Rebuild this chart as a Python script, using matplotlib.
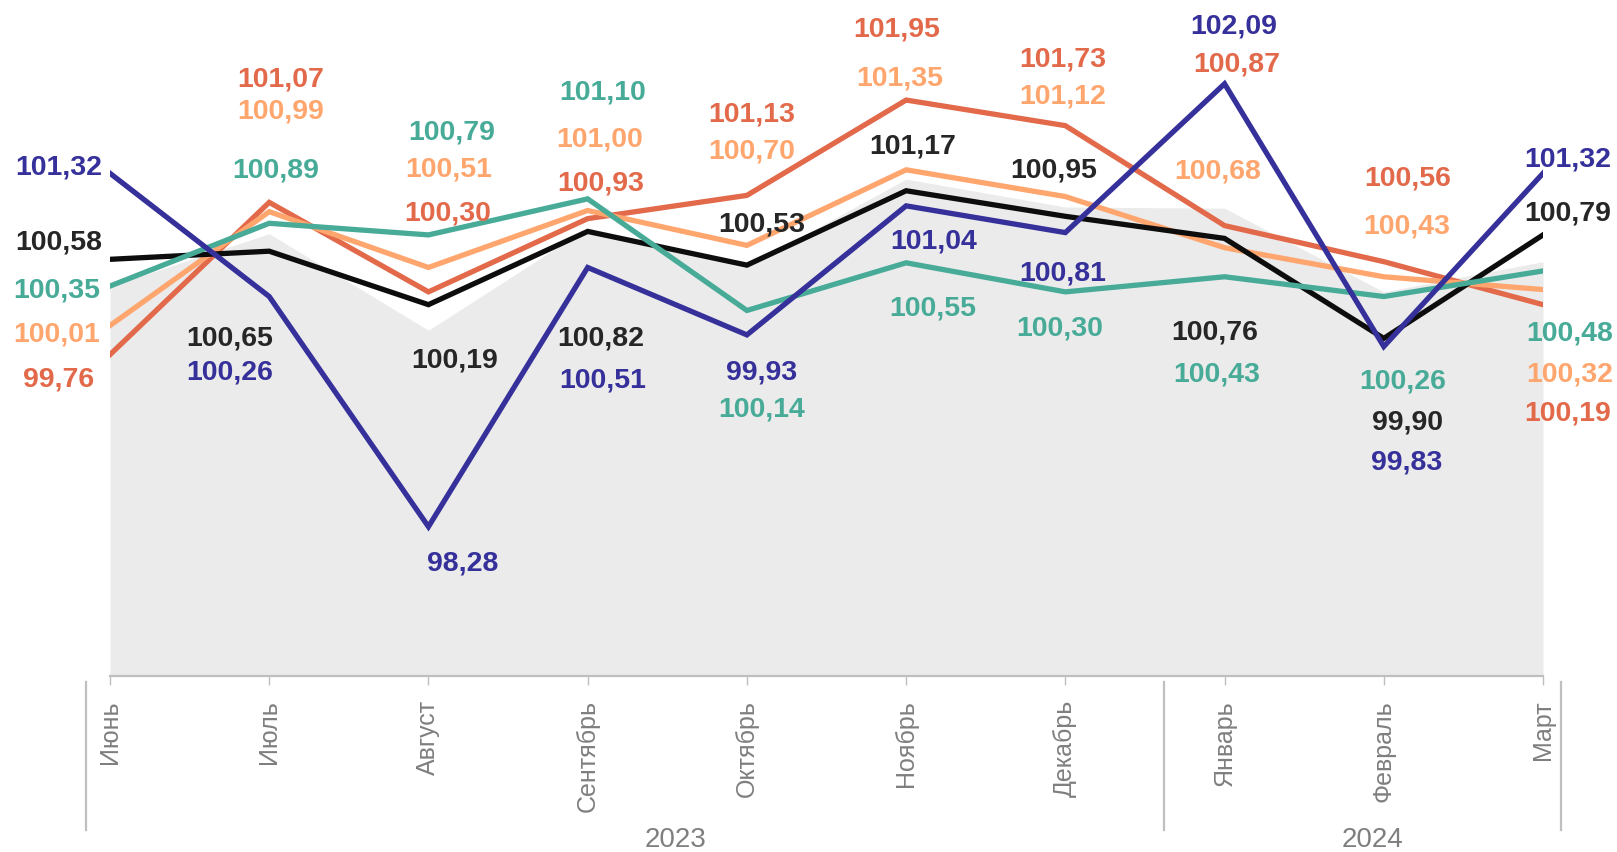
#!/usr/bin/env python3
from __future__ import annotations

import matplotlib

matplotlib.use("Agg")
import matplotlib.pyplot as plt
from matplotlib.lines import Line2D
from matplotlib.transforms import blended_transform_factory


MONTHS = ["Июнь", "Июль", "Август", "Сентябрь", "Октябрь", "Ноябрь", "Декабрь", "Январь", "Февраль", "Март"]
YEAR_LABELS = ["2023", "2024"]

AREA_VALUES = [100.35, 100.80, 99.97, 100.85, 100.52, 101.27, 101.03, 101.02, 100.30, 100.56]
BLACK_VALUES = [100.58, 100.65, 100.19, 100.82, 100.53, 101.17, 100.95, 100.76, 99.90, 100.79]
RED_VALUES = [99.76, 101.07, 100.30, 100.93, 101.13, 101.95, 101.73, 100.87, 100.56, 100.19]
ORANGE_VALUES = [100.01, 100.99, 100.51, 101.00, 100.70, 101.35, 101.12, 100.68, 100.43, 100.32]
TEAL_VALUES = [100.35, 100.89, 100.79, 101.10, 100.14, 100.55, 100.30, 100.43, 100.26, 100.48]
BLUE_VALUES = [101.32, 100.26, 98.28, 100.51, 99.93, 101.04, 100.81, 102.09, 99.83, 101.32]

# layout (pixels of the 1617x852 canvas)
FIG_W, FIG_H, DPI = 1617, 852, 100
PLOT_LEFT, PLOT_RIGHT = 110, 1543
PLOT_TOP, PLOT_BOTTOM = 1.25, 675.5
Y_MIN, Y_MAX = 97.0, 102.8
MONTH_LABEL_TOP = 700
YEAR_LABEL_Y = 840
SEPARATORS_X = [-0.15, 6.62, 9.11]
SEPARATOR_SPAN = (682, 830)
YEAR_LABEL_X = [3.55, 7.93]
LABEL_SHIFT = 2  # extra downward nudge for every data label

GRID_GREY = "#BFBFBF"
AXIS_TEXT = "#7F7F7F"
AREA_COLOR = "#EBEBEB"

# hand-placed data label offsets, (dx, dy) in pixels, dy down
LABEL_OFFSETS = {
    "black": [(-51, -19), (-40, 85), (26, 54), (13, 105), (15, -43), (7, -46), (-12, -48), (-10, 92), (24, 82), (25, -23)],
    "red": [(-51, 23), (11, -125), (19, -80), (13, -37), (5, -83), (-9, -73), (-3, -68), (12, -163), (24, -85), (25, 107)],
    "orange": [(-53, 7), (11, -102), (20, -100), (12, -73), (5, -96), (-6, -93), (-3, -102), (-7, -78), (23, -52), (27, 83)],
    "teal": [(-53, 2), (6, -55), (23, -104), (15, -108), (15, 97), (27, 44), (-6, 35), (-8, 96), (19, 83), (27, 61)],
    "blue": [(-51, -8), (-40, 74), (34, 35), (15, 111), (15, 36), (28, 34), (-3, 39), (9, -59), (23, 114), (25, -16)],
}

SERIES = [
    ("red", RED_VALUES, "#E2694A", "#E2694A"),
    ("orange", ORANGE_VALUES, "#FFA66F", "#FFA66F"),
    ("black", BLACK_VALUES, "#0D0D0D", "#262626"),
    ("teal", TEAL_VALUES, "#47AB98", "#47AB98"),
    ("blue", BLUE_VALUES, "#35309A", "#35309A"),
]


def _fmt(value: float) -> str:
    return f"{value:.2f}".replace(".", ",")


def main() -> None:
    plt.rcParams["font.family"] = ["Liberation Sans", "DejaVu Sans"]
    fig = plt.figure(figsize=(FIG_W / DPI, FIG_H / DPI), dpi=DPI)
    ax = fig.add_axes([
        PLOT_LEFT / FIG_W,
        1 - PLOT_BOTTOM / FIG_H,
        (PLOT_RIGHT - PLOT_LEFT) / FIG_W,
        (PLOT_BOTTOM - PLOT_TOP) / FIG_H,
    ])
    x = list(range(len(MONTHS)))
    ax.set_xlim(0, len(MONTHS) - 1)
    ax.set_ylim(Y_MIN, Y_MAX)

    ax.fill_between(x, Y_MIN, AREA_VALUES, color=AREA_COLOR, linewidth=0, zorder=1)

    for z, (name, values, color, text_color) in enumerate(SERIES):
        ax.plot(x, values, color=color, linewidth=3.8, solid_joinstyle="miter", zorder=3 + z)
        for i, value in enumerate(values):
            dx, dy = LABEL_OFFSETS[name][i]
            ax.annotate(
                _fmt(value), (i, value), xytext=(dx, -(dy + LABEL_SHIFT)), textcoords="offset pixels",
                ha="center", va="center", fontsize=20.5, fontweight="bold",
                color=text_color, annotation_clip=False, zorder=10,
            )

    for side in ("top", "right", "left"):
        ax.spines[side].set_visible(False)
    ax.spines["bottom"].set_color(GRID_GREY)
    ax.spines["bottom"].set_linewidth(1.6)
    ax.set_yticks([])
    ax.set_xticks(x)
    ax.set_xticklabels([])
    ax.tick_params(axis="x", direction="out", length=6.5, width=1.0, color=GRID_GREY)
    ax.patch.set_alpha(0)

    trans = blended_transform_factory(ax.transData, fig.transFigure)
    for i, month in enumerate(MONTHS):
        ax.text(i, 1 - MONTH_LABEL_TOP / FIG_H, month, transform=trans, rotation=90,
                ha="center", va="top", fontsize=18, color=AXIS_TEXT)
    for xpos, year in zip(YEAR_LABEL_X, YEAR_LABELS):
        ax.text(xpos, 1 - YEAR_LABEL_Y / FIG_H, year, transform=trans,
                ha="center", va="center", fontsize=20, color=AXIS_TEXT)
    for xpos in SEPARATORS_X:
        fig.add_artist(Line2D(
            [xpos, xpos], [1 - SEPARATOR_SPAN[0] / FIG_H, 1 - SEPARATOR_SPAN[1] / FIG_H],
            transform=trans, color=GRID_GREY, linewidth=1.6,
        ))

    fig.savefig("out.png", dpi=DPI, facecolor="white")
    plt.close(fig)


if __name__ == "__main__":
    main()
